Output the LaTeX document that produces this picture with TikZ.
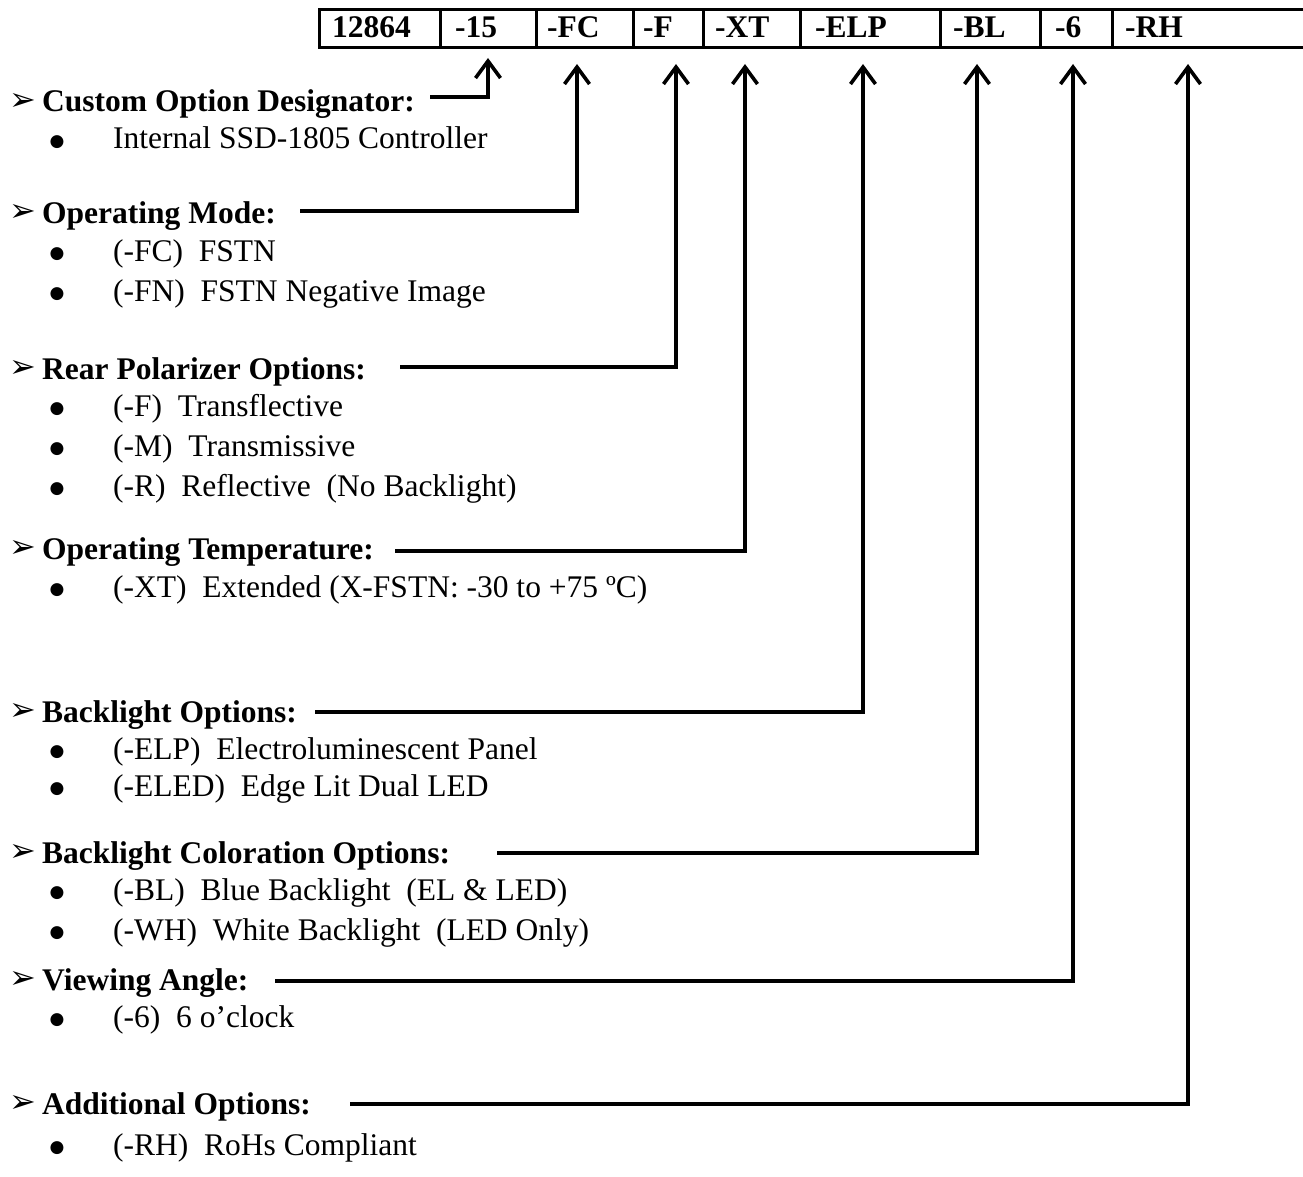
\documentclass[tikz,border=0pt]{standalone}
\usepackage{fontspec}
\setmainfont{Liberation Serif}
\newfontfamily\dejavu{DejaVu Sans}
\usetikzlibrary{arrows.meta}
\begin{document}
\begin{tikzpicture}[x=1pt,y=-1pt,
  cell/.style={anchor=base west,inner sep=0pt,font=\fontsize{31.5}{36}\selectfont\bfseries},
  head/.style={anchor=base west,inner sep=0pt,font=\fontsize{31.5}{36}\selectfont\bfseries},
  item/.style={anchor=base west,inner sep=0pt,font=\fontsize{31.5}{36}\selectfont},
  marker/.style={anchor=center,inner sep=0pt,font=\dejavu\fontsize{32}{32}\selectfont},
  dot/.style={anchor=center,inner sep=0pt,font=\dejavu\fontsize{17}{17}\selectfont},
  boxline/.style={line width=3pt},
  conn/.style={line width=3.6pt,-{Straight Barb[length=17pt,width=25pt]}}]
\useasboundingbox (0,0) rectangle (1303,1177);
% part number box
\draw[boxline] (1303,10) -- (319,10) -- (319,48) -- (1303,48);
\foreach \x in {440,536,633,703,800,940,1040,1112}
  \draw[boxline] (\x,10) -- (\x,48);
\node[cell] (c1) at (332,38) {12864};
\node[cell] (c2) at (455,38) {-15};
\node[cell] (c3) at (547,38) {-FC};
\node[cell] (c4) at (643,38) {-F};
\node[cell] (c5) at (715,38) {-XT};
\node[cell] (c6) at (815,38) {-ELP};
\node[cell] (c7) at (953,38) {-BL};
\node[cell] (c8) at (1055,38) {-6};
\node[cell] (c9) at (1125,38) {-RH};
% heading markers
\foreach \n/\y in {1/102,2/213,3/369,4/549,5/712,6/853,7/980,8/1104}
  \node[marker] (m\n) at (23,\y) {➢};
% bullets
\foreach \n/\y in {11/142,21/254,22/294,31/409,32/449,33/489,41/590,51/752,52/789,61/893,62/933,71/1020,81/1148}
  \node[dot] (d\n) at (57,\y) {●};
% headings
\node[head] (h1) at (42,112) {Custom Option Designator:};
\node[item] (i11) at (113,149) {Internal SSD-1805 Controller};
\node[head] (h2) at (42,223) {Operating Mode:};
\node[item] (i21) at (113,261) {(-FC)\ \ FSTN};
\node[item] (i22) at (113,301) {(-FN)\ \ FSTN Negative Image};
\node[head] (h3) at (42,379) {Rear Polarizer Options:};
\node[item] (i31) at (113,416) {(-F)\ \ Transflective};
\node[item] (i32) at (113,456) {(-M)\ \ Transmissive};
\node[item] (i33) at (113,496) {(-R)\ \ Reflective\ \ (No Backlight)};
\node[head] (h4) at (42,559) {Operating Temperature:};
\node[item] (i41) at (113,597) {(-XT)\ \ Extended (X-FSTN: -30 to +75 ºC)};
\node[head] (h5) at (42,722) {Backlight Options:};
\node[item] (i51) at (113,759) {(-ELP)\ \ Electroluminescent Panel};
\node[item] (i52) at (113,796) {(-ELED)\ \ Edge Lit Dual LED};
\node[head] (h6) at (42,863) {Backlight Coloration Options:};
\node[item] (i61) at (113,900) {(-BL)\ \ Blue Backlight\ \ (EL \& LED)};
\node[item] (i62) at (113,940) {(-WH)\ \ White Backlight\ \ (LED Only)};
\node[head] (h7) at (42,990) {Viewing Angle:};
\node[item] (i71) at (113,1027) {(-6)\ \ 6 o’clock};
\node[head] (h8) at (42,1114) {Additional Options:};
\node[item] (i81) at (113,1155) {(-RH)\ \ RoHs Compliant};
% connector start points and arrow tips
\coordinate (s1) at (430,97);   \coordinate (t1) at (488,58);
\coordinate (s2) at (300,211);  \coordinate (t2) at (577,64);
\coordinate (s3) at (400,367);  \coordinate (t3) at (676,64);
\coordinate (s4) at (395,551);  \coordinate (t4) at (745,64);
\coordinate (s5) at (315,712);  \coordinate (t5) at (863,64);
\coordinate (s6) at (497,853);  \coordinate (t6) at (977,64);
\coordinate (s7) at (275,981);  \coordinate (t7) at (1073,64);
\coordinate (s8) at (350,1104); \coordinate (t8) at (1188,64);
\foreach \i in {1,...,8}
  \draw[conn] (s\i) -| (t\i);
\end{tikzpicture}
\end{document}
